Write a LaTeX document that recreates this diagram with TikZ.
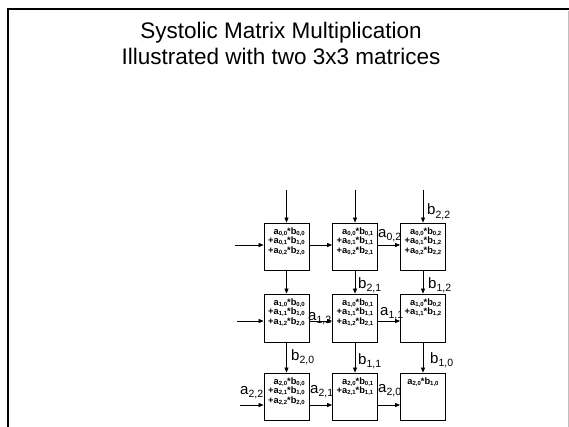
\documentclass[tikz,border=0pt]{standalone}
\usepackage{fontspec}
\setmainfont{Liberation Sans}
\usetikzlibrary{arrows.meta}
\newcommand\cs[1]{\raisebox{-1.4pt}{\fontsize{6}{6}\selectfont #1}}
\newcommand\ls[1]{\raisebox{-3.2pt}{\fontsize{10.5}{10.5}\selectfont #1}}
\begin{document}
\begin{tikzpicture}[x=1pt,y=-1pt,
  cell/.style={draw, line width=0.8pt, minimum width=45pt, minimum height=47pt, inner sep=0pt},
  ctext/.style={font=\bfseries\fontsize{9.3}{9.5}\selectfont, align=right, anchor=north, inner sep=0pt},
  arr/.style={-{Triangle[length=5pt,width=4pt]}, line width=0.7pt},
  lbl/.style={font=\fontsize{15}{15}\selectfont, inner sep=0pt, anchor=base west}]
\useasboundingbox (0,0) rectangle (569,427);
% frame
\draw[line width=2pt] (8,427) -- (8,9) -- (569,9);
\draw[black!25, line width=0.6pt] (568,11) -- (568,427);
% title
\node[font=\fontsize{22.5}{26}\selectfont, align=center] (title) at (281,43)
  {Systolic Matrix Multiplication\\Illustrated with two 3x3 matrices};
% cells
\node[cell] (c11) at (286.5,246.5) {};
\node[cell] (c12) at (355,246.5) {};
\node[cell] (c13) at (423,246.5) {};
\node[cell, minimum height=48pt] (c21) at (286.5,318) {};
\node[cell, minimum height=48pt] (c22) at (355,318) {};
\node[cell, minimum height=48pt] (c23) at (423,318) {};
\node[cell] (c31) at (286.5,396.5) {};
\node[cell] (c32) at (355,396.5) {};
\node[cell] (c33) at (423,396.5) {};
% cell texts
\node[ctext] (t11) at ([yshift=-4.5pt]c11.north) {a\cs{0,0}*b\cs{0,0}\\+a\cs{0,1}*b\cs{1,0}\\+a\cs{0,2}*b\cs{2,0}};
\node[ctext] (t12) at ([yshift=-4.5pt]c12.north) {a\cs{0,0}*b\cs{0,1}\\+a\cs{0,1}*b\cs{1,1}\\+a\cs{0,2}*b\cs{2,1}};
\node[ctext] (t13) at ([yshift=-4.5pt]c13.north) {a\cs{0,0}*b\cs{0,2}\\+a\cs{0,1}*b\cs{1,2}\\+a\cs{0,2}*b\cs{2,2}};
\node[ctext] (t21) at ([yshift=-4.5pt]c21.north) {a\cs{1,0}*b\cs{0,0}\\+a\cs{1,1}*b\cs{1,0}\\+a\cs{1,2}*b\cs{2,0}};
\node[ctext] (t22) at ([yshift=-4.5pt]c22.north) {a\cs{1,0}*b\cs{0,1}\\+a\cs{1,1}*b\cs{1,1}\\+a\cs{1,2}*b\cs{2,1}};
\node[ctext] (t23) at ([yshift=-4.5pt]c23.north) {a\cs{1,0}*b\cs{0,2}\\+a\cs{1,1}*b\cs{1,2}};
\node[ctext] (t31) at ([yshift=-4.5pt]c31.north) {a\cs{2,0}*b\cs{0,0}\\+a\cs{2,1}*b\cs{1,0}\\+a\cs{2,2}*b\cs{2,0}};
\node[ctext] (t32) at ([yshift=-4.5pt]c32.north) {a\cs{2,0}*b\cs{0,1}\\+a\cs{2,1}*b\cs{1,1}};
\node[ctext] (t33) at ([yshift=-4.5pt]c33.north) {a\cs{2,0}*b\cs{1,0}};
% input coordinates
\coordinate (i1) at (286.5,190);
\coordinate (i2) at (355,190);
\coordinate (i3) at (423,190);
\coordinate (l1) at (235,245);
\coordinate (l2) at (237,321);
\coordinate (l3) at (240,405);
% inputs
\draw[arr] (i1) -- (c11.north);
\draw[arr] (i2) -- (c12.north);
\draw[arr] (i3) -- (c13.north);
\draw[arr] (l1) -- (l1 -| c11.west);
\draw[arr] (l2) -- (l2 -| c21.west);
\draw[arr] (l3) -- (l3 -| c31.west);
% horizontal
\draw[arr] (c11.east |- l1) -- (c12.west |- l1);
\draw[arr] (c12.east |- l1) -- (c13.west |- l1);
\draw[arr] (c21.east |- l2) -- (c22.west |- l2);
\draw[arr] (c22.east |- l2) -- (c23.west |- l2);
\draw[arr] (c31.east |- l3) -- (c32.west |- l3);
\draw[arr] (c32.east |- l3) -- (c33.west |- l3);
% vertical
\draw[arr] (c11.south) -- (c21.north);
\draw[arr] (c12.south) -- (c22.north);
\draw[arr] (c13.south) -- (c23.north);
\draw[arr] (c21.south) -- (c31.north);
\draw[arr] (c22.south) -- (c32.north);
\draw[arr] (c23.south) -- (c33.north);
% labels
\node[lbl] (lb22) at (427,215) {b\ls{2,2}};
\node[lbl] (la02) at (378,237) {a\ls{0,2}};
\node[lbl] (la12) at (308,320) {a\ls{1,2}};
\node[lbl] (la11) at (380,315) {a\ls{1,1}};
\node[lbl] (lb21) at (358,288) {b\ls{2,1}};
\node[lbl] (lb12) at (428,288) {b\ls{1,2}};
\node[lbl] (lb20) at (291,360) {b\ls{2,0}};
\node[lbl] (la22) at (240,394) {a\ls{2,2}};
\node[lbl] (la21) at (310,393) {a\ls{2,1}};
\node[lbl] (lb11) at (358,364) {b\ls{1,1}};
\node[lbl] (lb10) at (430,363) {b\ls{1,0}};
\node[lbl] (la20) at (378,392) {a\ls{2,0}};
\end{tikzpicture}
\end{document}
